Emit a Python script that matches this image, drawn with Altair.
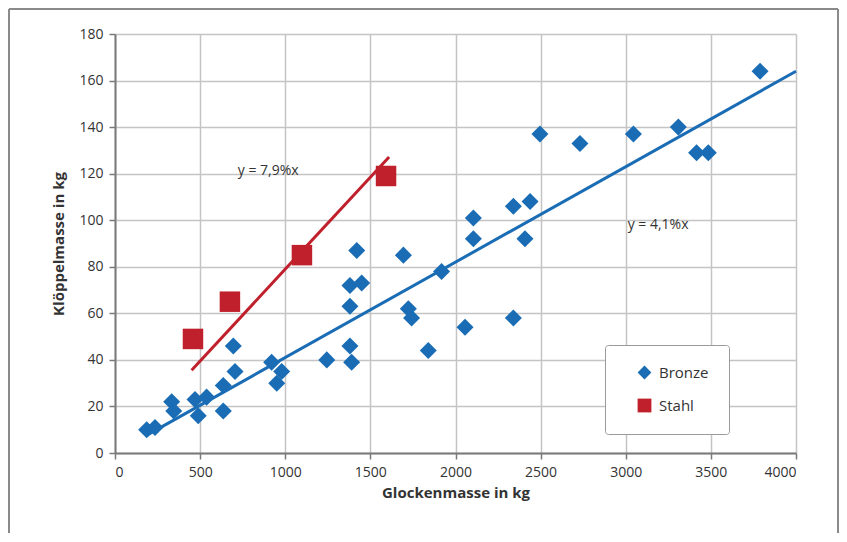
import altair as alt
import pandas as pd

bronze_x = [186, 235, 333, 345, 470, 489, 538, 636, 636, 705, 695, 920, 979, 950, 1244,
            1380, 1390, 1380, 1420, 1380, 1449, 1694, 1723, 1742, 1840, 1918, 2056, 2105,
            2105, 2340, 2438, 2408, 2340, 2496, 2731, 3045, 3309, 3416, 3485, 3789]
bronze_y = [10, 11, 22, 18, 23, 16, 24, 18, 29, 35, 46, 39, 35, 30, 40,
            46, 39, 63, 87, 72, 73, 85, 62, 58, 44, 78, 54, 101,
            92, 106, 108, 92, 58, 137, 133, 137, 140, 129, 129, 164]
stahl_x = [458, 675, 1098, 1592]
stahl_y = [49, 65, 85, 119]

bronze_slope = 0.041
stahl_slope = 0.079
bronze_fit_x = [190, 4000]
stahl_fit_x = [450, 1610]

labels_text = ["y = 7,9%x", "y = 4,1%x"]
labels_x = [900, 3190]
labels_y = [121, 98]

BLUE = "#1a6db5"
RED = "#c0202b"
FONT = "Open Sans"

pts = pd.DataFrame({
    "x": bronze_x + stahl_x,
    "y": bronze_y + stahl_y,
    "Typ": ["Bronze"] * len(bronze_x) + ["Stahl"] * len(stahl_x),
})
fit_b = pd.DataFrame({"x": bronze_fit_x, "y": [v * bronze_slope for v in bronze_fit_x]})
fit_s = pd.DataFrame({"x": stahl_fit_x, "y": [v * stahl_slope for v in stahl_fit_x]})
lab = pd.DataFrame({"x": labels_x, "y": labels_y, "t": labels_text})

xs = alt.Scale(domain=[0, 4000], nice=False, zero=True)
ys = alt.Scale(domain=[0, 180], nice=False)
cs = alt.Scale(domain=["Bronze", "Stahl"], range=[BLUE, RED])
ss = alt.Scale(domain=["Bronze", "Stahl"], range=["diamond", "square"])

xax = alt.Axis(values=list(range(0, 4001, 500)), format="d", title="Glockenmasse in kg",
               grid=True, tickSize=6, labelPadding=6, titlePadding=6)
yax = alt.Axis(values=list(range(0, 181, 20)), format="d", title="Klöppelmasse in kg",
               grid=True, tickSize=6, labelPadding=6, titlePadding=12)

legend = alt.Legend(
    title=None, orient="none", legendX=490, legendY=311,
    padding=20, rowPadding=17, labelFontSize=15, labelFont=FONT,
    labelColor="#333333", symbolSize=190, strokeColor="#9a9a9a",
    fillColor="white", cornerRadius=3, symbolOpacity=1,
    symbolStrokeWidth=0, symbolOffset=12, labelOffset=7, labelLimit=200)

line_b = alt.Chart(fit_b).mark_line(strokeWidth=3, color=BLUE).encode(
    x=alt.X("x:Q", scale=xs, axis=xax),
    y=alt.Y("y:Q", scale=ys, axis=yax),
)
line_s = alt.Chart(fit_s).mark_line(strokeWidth=3, color=RED).encode(
    x=alt.X("x:Q", scale=xs),
    y=alt.Y("y:Q", scale=ys),
)

bronze_pts = alt.Chart(pts).transform_filter(alt.datum.Typ == "Bronze").mark_point(
    filled=True, opacity=1, size=290
).encode(
    x=alt.X("x:Q", scale=xs),
    y=alt.Y("y:Q", scale=ys),
    color=alt.Color("Typ:N", scale=cs, legend=legend),
    shape=alt.Shape("Typ:N", scale=ss, legend=legend),
)

stahl_pts = alt.Chart(pts).transform_filter(alt.datum.Typ == "Stahl").mark_point(
    filled=True, opacity=1, size=420
).encode(
    x=alt.X("x:Q", scale=xs),
    y=alt.Y("y:Q", scale=ys),
    color=alt.Color("Typ:N", scale=cs, legend=legend),
    shape=alt.Shape("Typ:N", scale=ss, legend=legend),
)

texts = alt.Chart(lab).mark_text(fontSize=14, font=FONT, color="#333333").encode(
    x=alt.X("x:Q", scale=xs),
    y=alt.Y("y:Q", scale=ys),
    text="t:N",
)

frame_color = "#8a8a8a"
one = pd.DataFrame({"a": [0]})
frame = [
    alt.Chart(one).mark_rule(color=frame_color, strokeWidth=2, clip=False).encode(
        x=alt.value(-106), x2=alt.value(723), y=alt.value(-25)),
    alt.Chart(one).mark_rule(color=frame_color, strokeWidth=2, clip=False).encode(
        x=alt.value(-106), y=alt.value(-25), y2=alt.value(510)),
    alt.Chart(one).mark_rule(color=frame_color, strokeWidth=2, clip=False).encode(
        x=alt.value(723), y=alt.value(-25), y2=alt.value(510)),
]

chart = alt.layer(line_b, line_s, bronze_pts, stahl_pts, texts, *frame).resolve_scale(
    color="shared", shape="shared"
).properties(
    width=681, height=419,
    autosize=alt.AutoSizeParams(type="none"),
    padding={"left": 107, "top": 26, "right": 43, "bottom": 80},
    background="white",
).configure_view(
    stroke=None
).configure_axis(
    labelFont=FONT, titleFont=FONT, labelFontSize=14, titleFontSize=15,
    labelColor="#333333", titleColor="#333333", titleFontWeight="bold",
    gridColor="#c4c4c4", gridWidth=1.5, domainColor="#7a7a7a", domainWidth=2,
    tickColor="#7a7a7a", tickWidth=1.5,
)

chart.save("out.html", embed_options={"renderer": "svg", "actions": False})
